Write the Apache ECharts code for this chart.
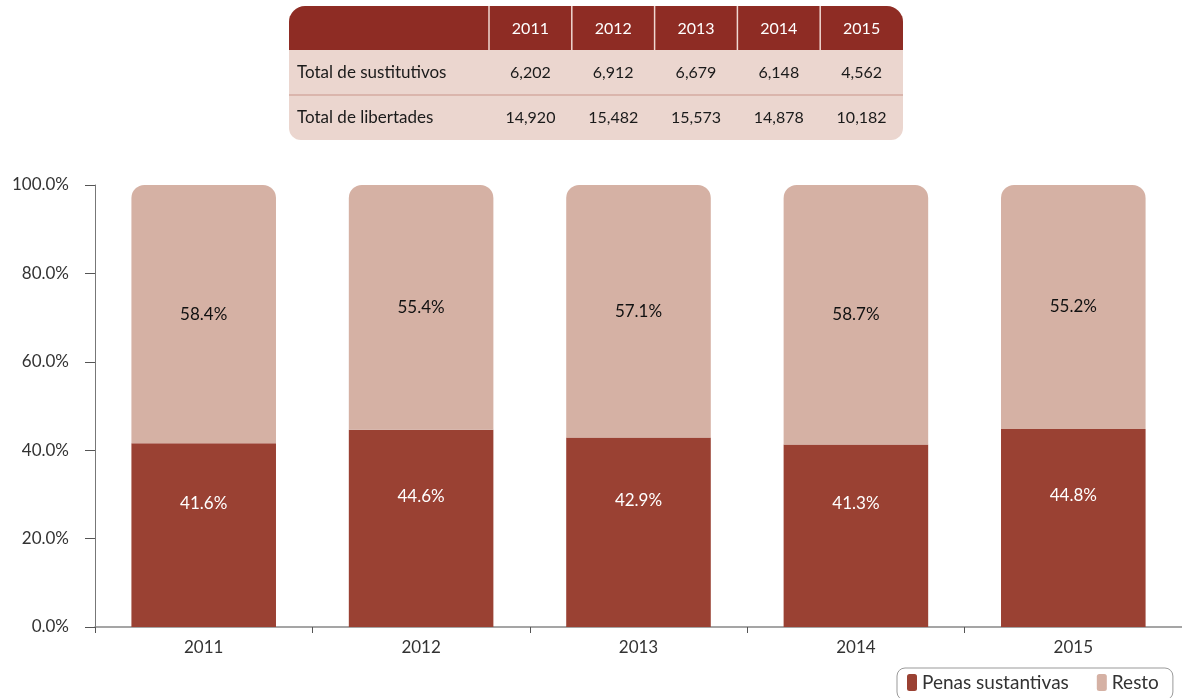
<!DOCTYPE html>
<html>
<head>
<meta charset="utf-8">
<script src="https://cdn.jsdelivr.net/npm/echarts@6/dist/echarts.min.js"></script>
<style>
  html, body { margin: 0; padding: 0; background: #fff; }
  #chart { width: 1182px; height: 698px; }
</style>
</head>
<body>
<div id="chart"></div>
<script>
// chart data
const years = ['2011', '2012', '2013', '2014', '2015'];
const penas = [41.6, 44.6, 42.9, 41.3, 44.8];
const resto = [58.4, 55.4, 57.1, 58.7, 55.2];
const yTicks = [0, 20, 40, 60, 80, 100];

// table above the chart
const tableRows = ['Total de sustitutivos', 'Total de libertades'];
const sustitutivos = ['6,202', '6,912', '6,679', '6,148', '4,562'];
const libertades = ['14,920', '15,482', '15,573', '14,878', '10,182'];

const FONT = 'Lato, "Open Sans", sans-serif';
const DARK = '#9A4133';
const LIGHT = '#D5B1A4';

function buildTable() {
  const x0 = 289, y0 = 6, firstW = 200, colW = 82.8, rowH = 45, headH = 44;
  const totalW = firstW + colW * years.length;
  const els = [];
  // body background
  els.push({ type: 'rect', shape: { x: x0, y: y0 + 10, width: totalW, height: headH - 10 + rowH * 2, r: [0, 0, 12, 12] }, style: { fill: '#EBD6CF' } });
  // header
  els.push({ type: 'rect', shape: { x: x0, y: y0, width: totalW, height: headH, r: [16, 16, 0, 0] }, style: { fill: '#8E2C24' } });
  // header column lines
  for (let i = 0; i < years.length; i++) {
    const cx = x0 + firstW + colW * i;
    els.push({ type: 'line', shape: { x1: cx, y1: y0, x2: cx, y2: y0 + headH }, style: { stroke: '#F0D8D2', lineWidth: 1.5 } });
    els.push({ type: 'text', x: cx + colW / 2, y: y0 + headH / 2 + 1, style: { text: years[i], fill: '#fff', font: '16px ' + FONT, align: 'center', verticalAlign: 'middle' } });
  }
  // row separator
  els.push({ type: 'line', shape: { x1: x0, y1: y0 + headH + rowH, x2: x0 + totalW, y2: y0 + headH + rowH }, style: { stroke: '#C9958A', lineWidth: 1 } });
  const rows = [sustitutivos, libertades];
  rows.forEach((vals, r) => {
    const cy = y0 + headH + rowH * r + rowH / 2;
    els.push({ type: 'text', x: x0 + 8, y: cy, style: { text: tableRows[r], fill: '#1a1a1a', font: '17px ' + FONT, align: 'left', verticalAlign: 'middle' } });
    vals.forEach((v, i) => {
      els.push({ type: 'text', x: x0 + firstW + colW * i + colW / 2, y: cy, style: { text: v, fill: '#1a1a1a', font: '16px ' + FONT, align: 'center', verticalAlign: 'middle' } });
    });
  });
  return els;
}

const chart = echarts.init(document.getElementById('chart'));
chart.setOption({
  animation: false,
  textStyle: { fontFamily: FONT },
  graphic: buildTable(),
  grid: { left: 95, right: 0, top: 185, bottom: 71 },
  legend: {
    left: 897, top: 668,
    data: ['Penas sustantivas', 'Resto'],
    icon: 'roundRect',
    itemWidth: 10, itemHeight: 17, itemGap: 28,
    padding: [5, 14, 8, 10],
    borderColor: '#999', borderWidth: 1, borderRadius: 8,
    textStyle: { fontSize: 19, color: '#333', fontFamily: FONT }
  },
  xAxis: {
    type: 'category',
    data: years,
    axisLine: { lineStyle: { color: '#888', width: 1.5 } },
    axisTick: { show: true, length: 6, lineStyle: { color: '#555' } },
    axisLabel: { fontSize: 17, color: '#333', margin: 12 }
  },
  yAxis: {
    type: 'value',
    min: yTicks[0], max: yTicks[yTicks.length - 1], interval: yTicks[1] - yTicks[0],
    axisLine: { show: true, lineStyle: { color: '#777', width: 1 } },
    axisTick: { show: true, length: 10, lineStyle: { color: '#555' } },
    splitLine: { show: false },
    axisLabel: { fontSize: 17, color: '#333', margin: 26, formatter: v => v.toFixed(1) + '%' }
  },
  series: [
    {
      name: 'Penas sustantivas', type: 'bar', stack: 'total', barWidth: '66.5%',
      data: penas,
      itemStyle: { color: DARK },
      label: { show: true, position: 'inside', offset: [0, -32], color: '#fff', fontSize: 17, formatter: p => p.value.toFixed(1) + '%' }
    },
    {
      name: 'Resto', type: 'bar', stack: 'total',
      data: resto,
      itemStyle: { color: LIGHT, borderRadius: [13, 13, 0, 0] },
      label: { show: true, position: 'inside', color: '#111', fontSize: 17, formatter: p => p.value.toFixed(1) + '%' }
    }
  ]
});
</script>
</body>
</html>
